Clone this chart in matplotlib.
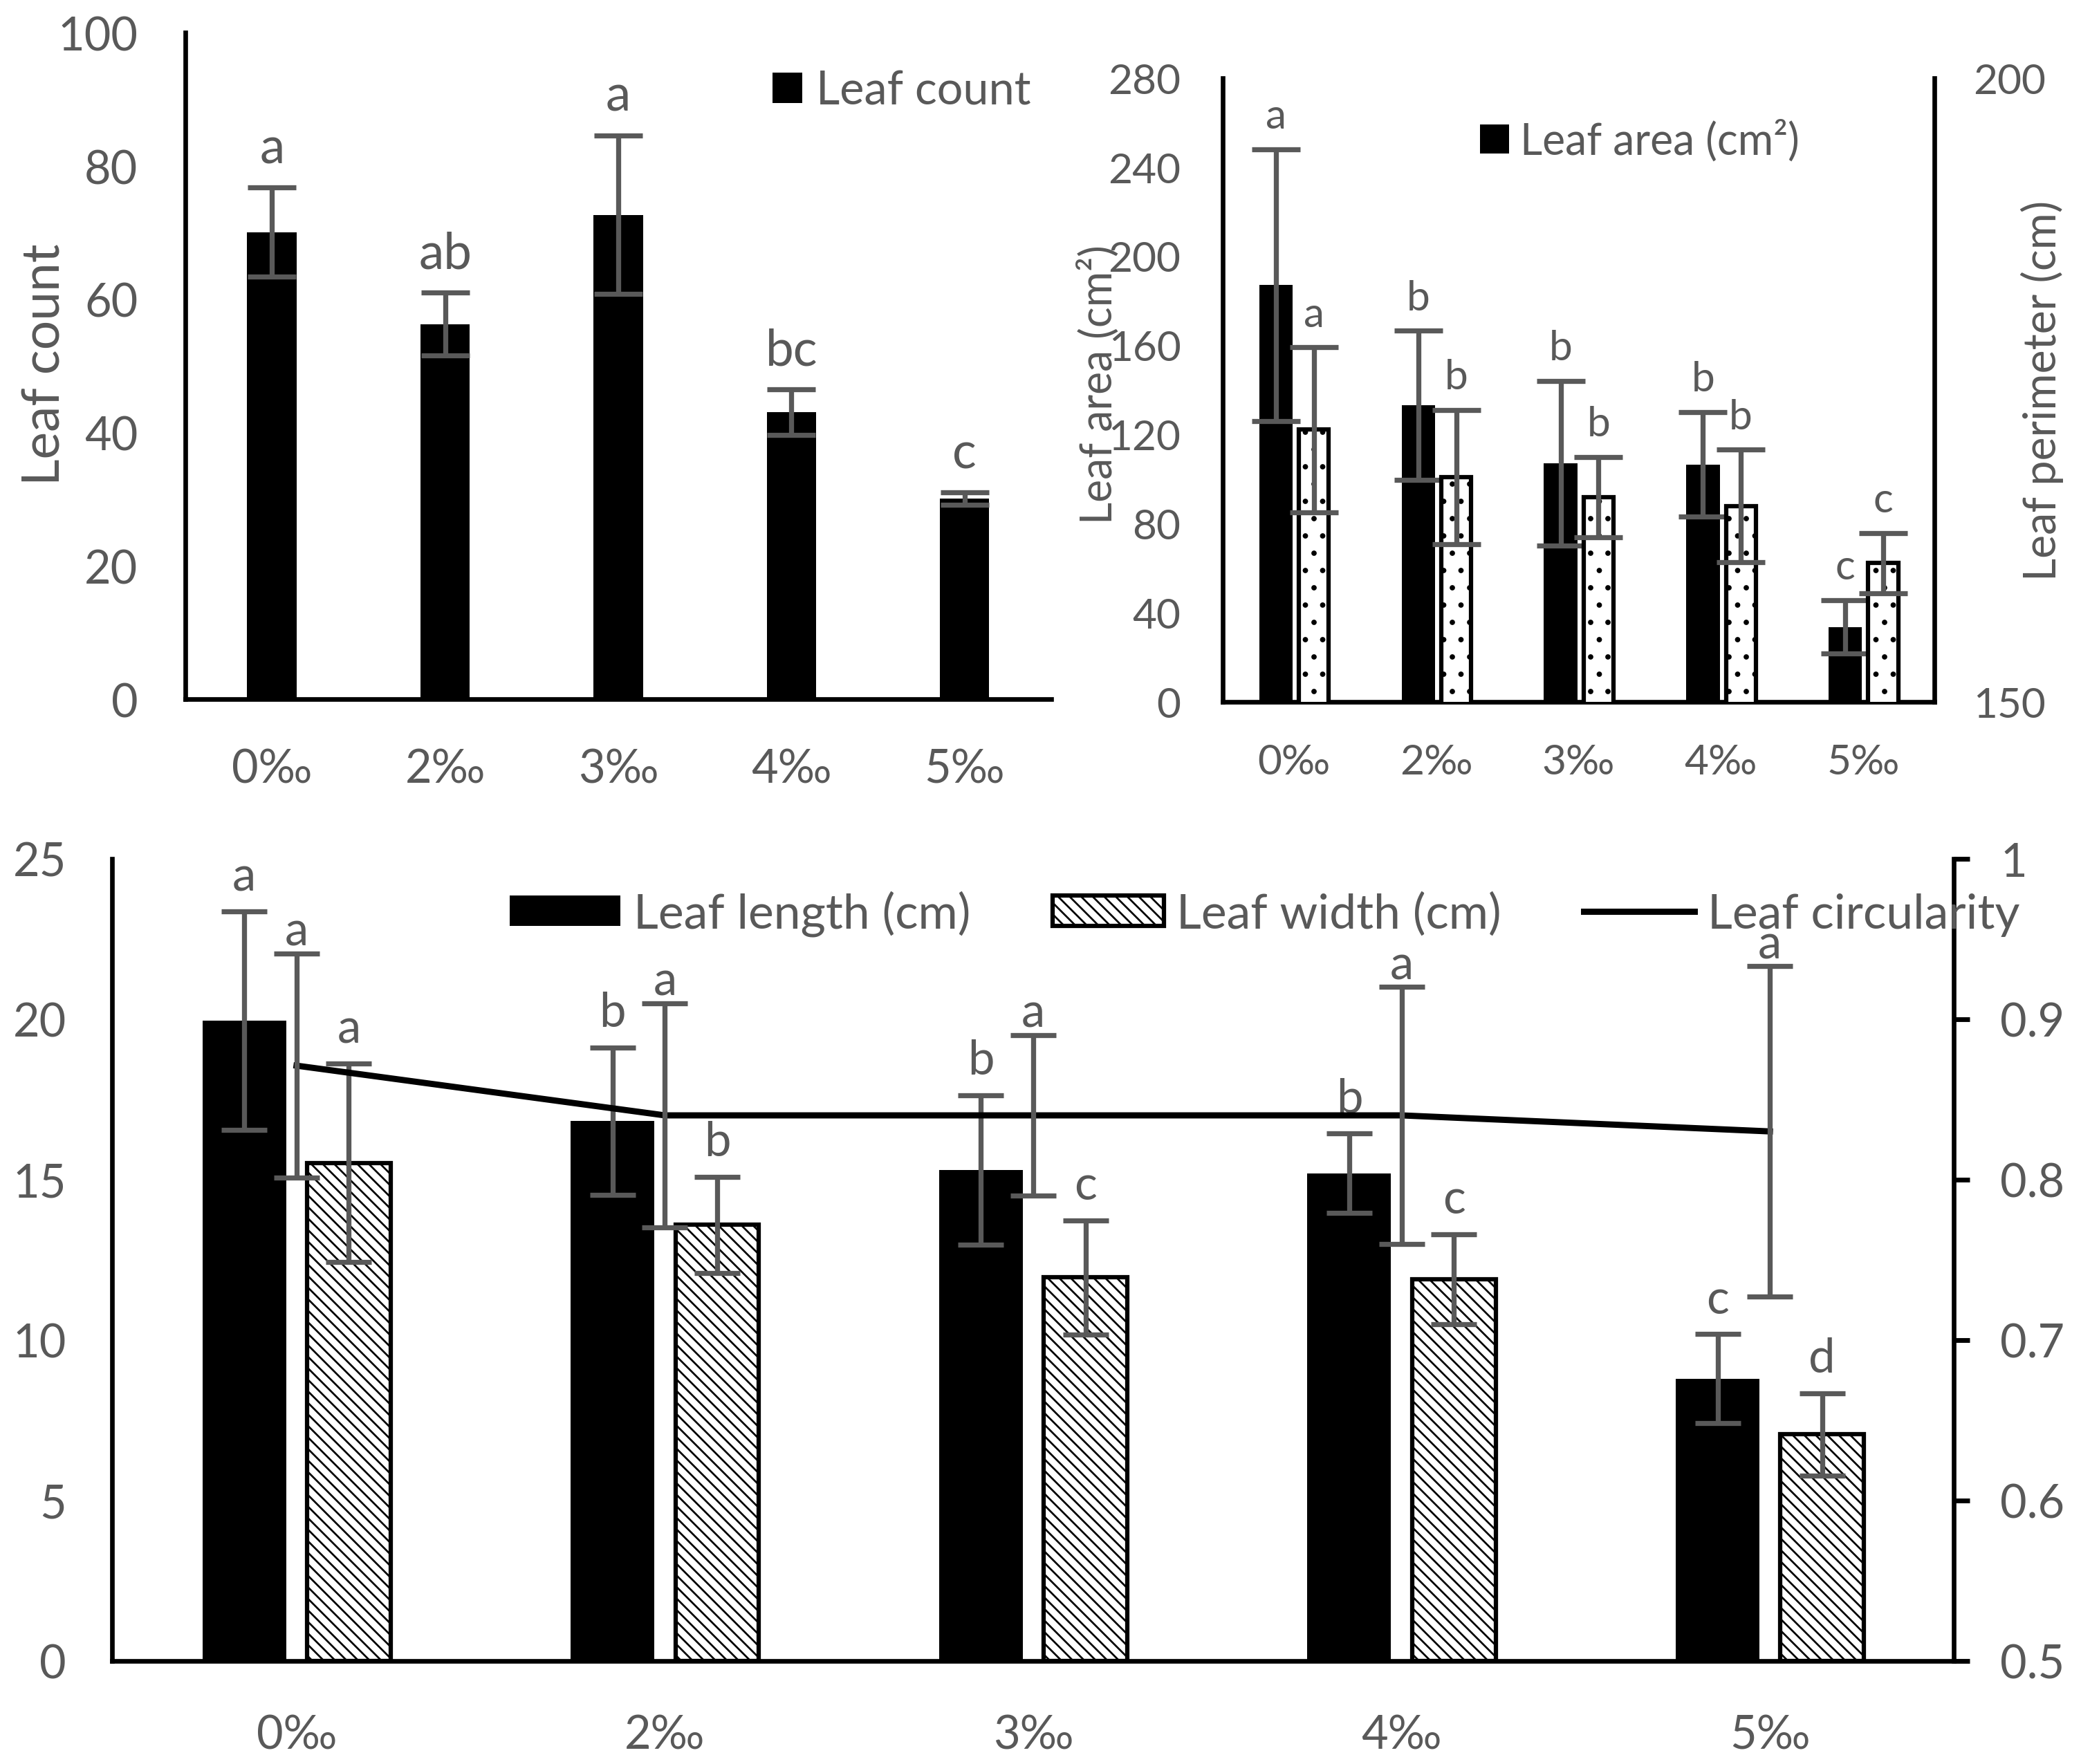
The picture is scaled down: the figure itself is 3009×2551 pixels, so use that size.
import matplotlib
matplotlib.use('Agg')
import matplotlib.pyplot as plt
import numpy as np
from matplotlib.ticker import FuncFormatter, MultipleLocator, FixedLocator
from matplotlib.lines import Line2D
from matplotlib.patches import Patch

plt.rcParams['font.family'] = ['Lato', 'DejaVu Sans']
plt.rcParams['hatch.linewidth'] = 1.3

# ---------------- data ----------------
categories = ['0‰', '2‰', '3‰', '4‰', '5‰']

leaf_count = [70.1, 56.3, 72.7, 43.1, 30.1]
leaf_count_err = [6.7, 4.7, 11.9, 3.4, 0.9]
leaf_count_letters = ['a', 'ab', 'a', 'bc', 'c']

leaf_area = [187.0, 133.0, 107.0, 106.5, 33.5]
leaf_area_err = [61.0, 33.5, 37.0, 23.5, 12.0]
leaf_area_letters = ['a', 'b', 'b', 'b', 'c']

leaf_perimeter = [171.8, 168.0, 166.4, 165.7, 161.1]
leaf_perimeter_err = [6.6, 5.4, 3.2, 4.5, 2.4]
leaf_perimeter_letters = ['a', 'b', 'b', 'b', 'c']

leaf_length = [19.95, 16.82, 15.29, 15.2, 8.79]
leaf_length_err = [3.4, 2.3, 2.33, 1.23, 1.39]
leaf_length_letters = ['a', 'b', 'b', 'b', 'c']

leaf_width = [15.52, 13.59, 11.95, 11.9, 7.06]
leaf_width_err = [3.1, 1.5, 1.78, 1.4, 1.28]
leaf_width_letters = ['a', 'b', 'c', 'c', 'd']

leaf_circularity = [0.871, 0.840, 0.840, 0.840, 0.830]
leaf_circularity_err = [0.07, 0.07, 0.05, 0.08, 0.103]
leaf_circularity_letters = ['a', 'a', 'a', 'a', 'a']

# ---------------- style ----------------
GRAY = '#595959'
SPINE_LW = 3.2
ELW = 3.5
HATCH_W = '\\\\\\'

x = np.arange(len(categories))

fig = plt.figure(figsize=(20.06, 17.0133), dpi=150)


def style_spines(ax, show):
    for s in ['left', 'right', 'top', 'bottom']:
        ax.spines[s].set_visible(s in show)
        ax.spines[s].set_linewidth(SPINE_LW)
        ax.spines[s].set_color('black')


def letters(ax, xs, tops, labs, size, off):
    for xi, t, l in zip(xs, tops, labs):
        ax.annotate(l, (xi, t), xytext=(0, off), textcoords='offset points',
                    ha='center', va='bottom', fontsize=size, color=GRAY)


# ---------------- top-left: leaf count ----------------
ax1 = fig.add_axes([0.0891, 0.6034, 0.5051 - 0.0891, 0.981 - 0.6034])
ax1.bar(x, leaf_count, 0.286, color='black', zorder=2)
ax1.errorbar(x, leaf_count, yerr=leaf_count_err, fmt='none', ecolor=GRAY,
             elinewidth=ELW, capsize=17, capthick=ELW, zorder=3)
letters(ax1, x, np.array(leaf_count) + np.array(leaf_count_err),
        leaf_count_letters, 35, 11)
ax1.set_xlim(-0.5, 4.5)
ax1.set_ylim(0, 100)
ax1.yaxis.set_major_locator(MultipleLocator(20))
ax1.set_xticks(x)
ax1.set_xticklabels(categories)
ax1.tick_params(axis='both', length=0, labelsize=32, labelcolor=GRAY)
ax1.tick_params(axis='y', pad=33)
ax1.tick_params(axis='x', pad=34)
style_spines(ax1, ['left', 'bottom'])
ax1.set_ylabel('Leaf count', fontsize=36, color=GRAY)
ax1.yaxis.set_label_coords(-0.135, 0.503)
ax1.legend(handles=[Patch(facecolor='black', edgecolor='none')],
           labels=['Leaf count'], loc='center left',
           bbox_to_anchor=(0.678, 0.913), frameon=False, fontsize=32,
           labelcolor=GRAY, handlelength=0.65, handleheight=0.65,
           handletextpad=0.3, borderpad=0, borderaxespad=0)

# ---------------- top-right: leaf area / perimeter ----------------
ax2 = fig.add_axes([0.5875, 0.602, 0.9294 - 0.5875, 0.9554 - 0.602])
ax2r = ax2.twinx()
bw_a = 0.235
bw_p = 0.21
xa = x - 0.124
xp = x + 0.142
ax2.bar(xa, leaf_area, bw_a, color='black', zorder=2)
ax2.errorbar(xa, leaf_area, yerr=leaf_area_err, fmt='none', ecolor=GRAY,
             elinewidth=ELW, capsize=17, capthick=ELW, zorder=3)
letters(ax2, xa, np.array(leaf_area) + np.array(leaf_area_err),
        leaf_area_letters, 29, 10)
ax2r.bar(xp, leaf_perimeter, bw_p, bottom=0, facecolor='white',
         edgecolor='black', linewidth=3, hatch='.', zorder=2)
ax2r.errorbar(xp, leaf_perimeter, yerr=leaf_perimeter_err, fmt='none',
              ecolor=GRAY, elinewidth=ELW, capsize=17, capthick=ELW, zorder=3)
letters(ax2r, xp, np.array(leaf_perimeter) + np.array(leaf_perimeter_err),
        leaf_perimeter_letters, 29, 10)
ax2.set_xlim(-0.5, 4.5)
ax2.set_ylim(0, 280)
ax2.yaxis.set_major_locator(MultipleLocator(40))
ax2r.set_ylim(150, 200)
ax2r.yaxis.set_major_locator(FixedLocator([150, 200]))
ax2.set_xticks(x)
ax2.set_xticklabels(categories)
ax2.tick_params(axis='both', length=0, labelsize=29, labelcolor=GRAY)
ax2.tick_params(axis='y', pad=29)
ax2.tick_params(axis='x', pad=29)
ax2r.tick_params(axis='y', length=0, labelsize=29, labelcolor=GRAY, pad=27)
style_spines(ax2, ['left', 'bottom'])
style_spines(ax2r, ['right'])
ax2.set_ylabel('Leaf area (cm²)', fontsize=30, color=GRAY)
ax2.yaxis.set_label_coords(-0.145, 0.51)
ax2r.set_ylabel('Leaf perimeter (cm)', fontsize=31, color=GRAY)
ax2r.yaxis.set_label_coords(1.122, 0.50)
ax2r.legend(handles=[Patch(facecolor='black', edgecolor='none')],
            labels=['Leaf area (cm²)'], loc='center left',
            bbox_to_anchor=(0.3615, 0.900), frameon=False, fontsize=30,
            labelcolor=GRAY, handlelength=0.68, handleheight=0.66,
            handletextpad=0.25, borderpad=0, borderaxespad=0)

# ---------------- bottom: length / width / circularity ----------------
ax3 = fig.add_axes([0.054, 0.0585, 0.939 - 0.054, 0.513 - 0.0585])
ax3r = ax3.twinx()
bw = 0.227
xl = x - 0.142
xw = x + 0.142
ax3.bar(xl, leaf_length, bw, color='black', zorder=2)
ax3.errorbar(xl, leaf_length, yerr=leaf_length_err, fmt='none', ecolor=GRAY,
             elinewidth=ELW, capsize=16, capthick=ELW, zorder=3)
ax3.bar(xw, leaf_width, bw, facecolor='white', edgecolor='black',
        linewidth=3, hatch=HATCH_W, zorder=2)
ax3.errorbar(xw, leaf_width, yerr=leaf_width_err, fmt='none', ecolor=GRAY,
             elinewidth=ELW, capsize=16, capthick=ELW, zorder=3)
letters(ax3, xl, np.array(leaf_length) + np.array(leaf_length_err),
        leaf_length_letters, 33, 9)
letters(ax3, xw, np.array(leaf_width) + np.array(leaf_width_err),
        leaf_width_letters, 33, 9)
ax3r.plot(x, leaf_circularity, color='black', lw=4.3, zorder=2)
ax3r.errorbar(x, leaf_circularity, yerr=leaf_circularity_err, fmt='none',
              ecolor=GRAY, elinewidth=ELW, capsize=16, capthick=ELW, zorder=3)
letters(ax3r, x, np.array(leaf_circularity) + np.array(leaf_circularity_err),
        leaf_circularity_letters, 33, 0)
ax3.set_xlim(-0.5, 4.5)
ax3.set_ylim(0, 25)
ax3.yaxis.set_major_locator(MultipleLocator(5))
ax3r.set_ylim(0.5, 1.0)
ax3r.yaxis.set_major_locator(FixedLocator([0.5, 0.6, 0.7, 0.8, 0.9, 1.0]))
ax3r.yaxis.set_major_formatter(FuncFormatter(lambda v, p: '%g' % round(v, 2)))
ax3.set_xticks(x)
ax3.set_xticklabels(categories)
ax3.tick_params(axis='both', length=0, labelsize=32, labelcolor=GRAY)
ax3.tick_params(axis='y', pad=32)
ax3.tick_params(axis='x', pad=37)
ax3r.tick_params(axis='y', length=11, width=3.3, direction='out',
                 labelsize=32, labelcolor=GRAY, pad=21, color='black')
style_spines(ax3, ['left', 'bottom'])
style_spines(ax3r, ['right'])

handles = [Patch(facecolor='black', edgecolor='none'),
           Patch(facecolor='white', edgecolor='black', linewidth=3, hatch=HATCH_W),
           Line2D([], [], color='black', lw=4.3)]
ax3r.legend(handles=handles,
            labels=['Leaf length (cm)', 'Leaf width (cm)', 'Leaf circularity'],
            loc='center left', bbox_to_anchor=(0.2156, 0.932), ncol=3,
            frameon=False, fontsize=33.5, labelcolor=GRAY, handlelength=2.3,
            handleheight=0.58, handletextpad=0.27, columnspacing=1.7,
            borderpad=0, borderaxespad=0)

fig.savefig('out.png', dpi=150)
